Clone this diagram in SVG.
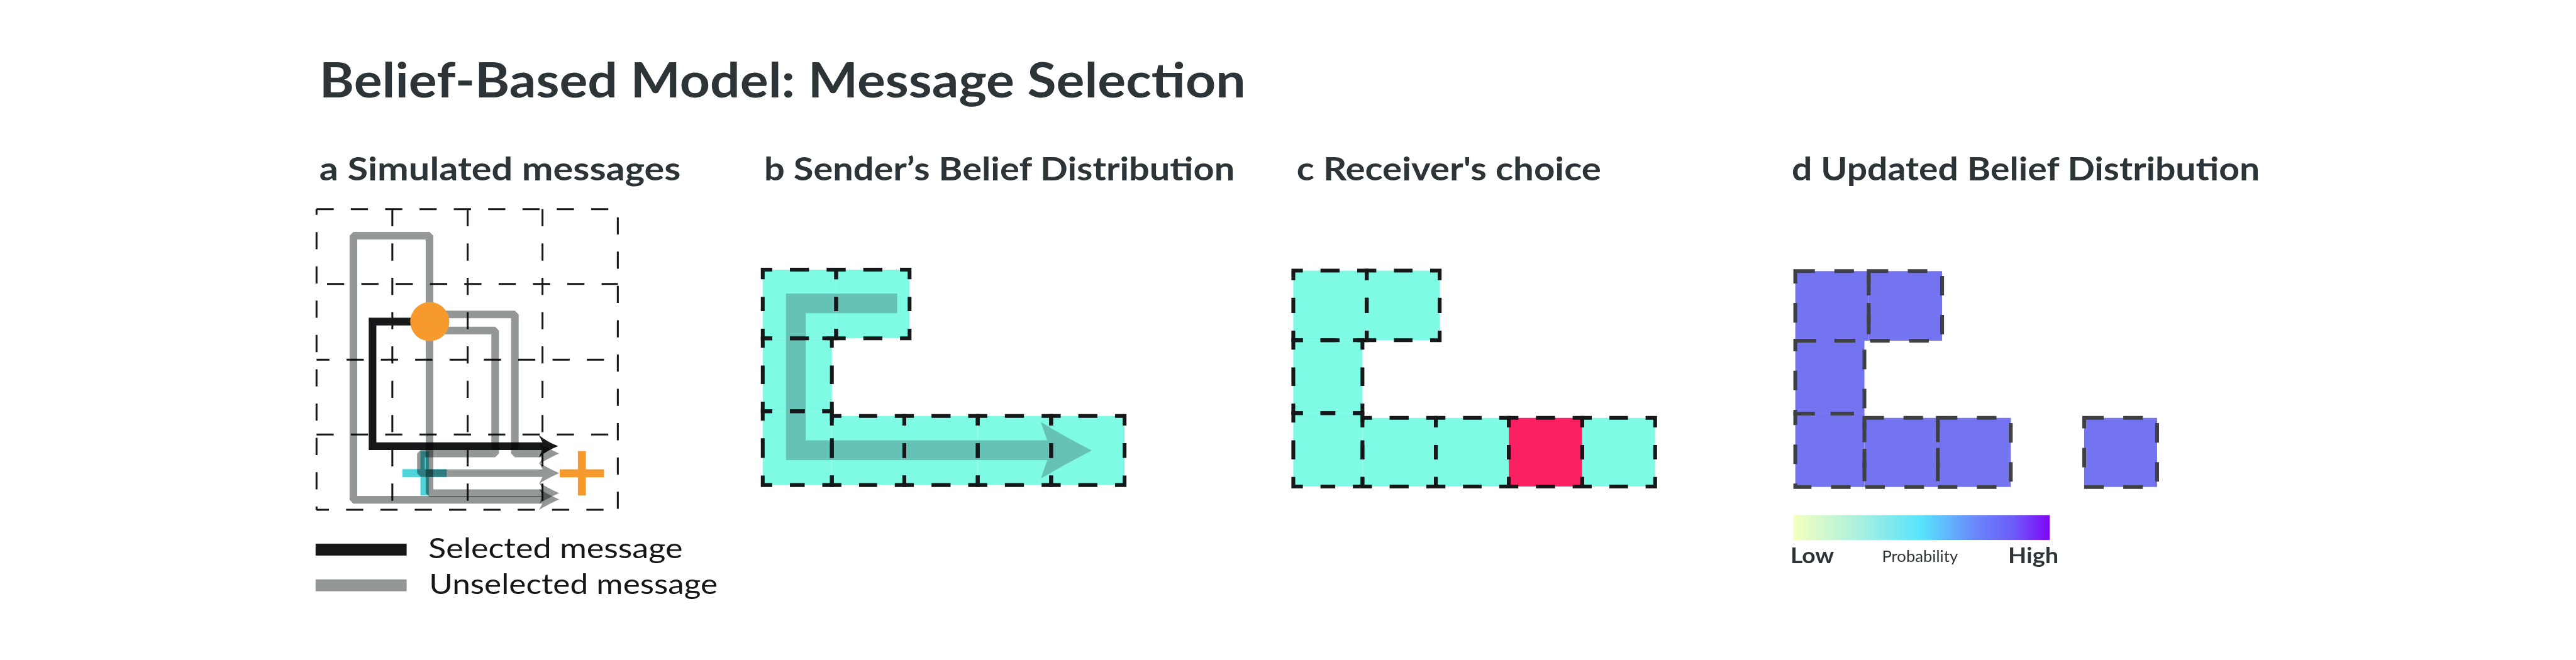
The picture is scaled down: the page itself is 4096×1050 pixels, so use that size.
<svg xmlns="http://www.w3.org/2000/svg" width="4096" height="1050" viewBox="0 0 4096 1050">
<defs>
<style>
.ttl{font-family:Lato,"Liberation Sans",sans-serif;font-weight:700;fill:#2D3437}
.hdr{font-family:Lato,"Liberation Sans",sans-serif;font-weight:700;font-size:67px;fill:#2D3437}
.leg{font-family:Lato,"Liberation Sans",sans-serif;font-weight:400;font-size:59px;fill:#151617}
.grid{fill:none;stroke:#161718;stroke-width:4;stroke-dasharray:36 36}
.msg{fill:none;stroke:#939796;stroke-width:16;stroke-linejoin:bevel}
.ahg{fill:#939796}
.um{mix-blend-mode:multiply}
.aq{fill:#7FFBE5}
.cd{fill:none;stroke:#151718;stroke-width:8;stroke-linecap:square;stroke-dasharray:16 45 200}
.dfill{fill:#7474F0}
.dd{fill:none;stroke:#3F4043;stroke-width:8;stroke-dasharray:41 41}
.orange{fill:#F79A2E}
</style>
<linearGradient id="cbar" x1="0" y1="0" x2="1" y2="0">
<stop offset="0" stop-color="#F5FFBF"/>
<stop offset="0.25" stop-color="#ABF0DD"/>
<stop offset="0.5" stop-color="#58E4FD"/>
<stop offset="0.72" stop-color="#6A84FA"/>
<stop offset="0.86" stop-color="#6C5BF8"/>
<stop offset="1" stop-color="#7F05F6"/>
</linearGradient>
</defs>
<rect width="4096" height="1050" fill="#FFFFFF"/>
<g transform="scale(0.758)">
<g id="title">
<text class="ttl" x="670" y="205" font-size="100" textLength="1943" lengthAdjust="spacingAndGlyphs">Belief-Based Model: Message Selection</text>
</g>

<g id="panel-a">
<text class="hdr" x="670" y="378" textLength="758" lengthAdjust="spacingAndGlyphs">a Simulated messages</text>
<g id="grid-a">
<line class="grid" x1="664" y1="439" x2="1296" y2="439"/>
<line class="grid" x1="664" y1="596" x2="1296" y2="596" stroke-dashoffset="50"/>
<line class="grid" x1="664" y1="755" x2="1296" y2="755" stroke-dashoffset="9"/>
<line class="grid" x1="664" y1="912" x2="1296" y2="912"/>
<line class="grid" x1="664" y1="1070" x2="1296" y2="1070" stroke-dashoffset="10"/>
<line class="grid" x1="664" y1="439" x2="664" y2="1070" stroke-dashoffset="24"/>
<line class="grid" x1="823" y1="439" x2="823" y2="1070"/>
<line class="grid" x1="981" y1="439" x2="981" y2="1070"/>
<line class="grid" x1="1138" y1="439" x2="1138" y2="1070"/>
<line class="grid" x1="1296" y1="439" x2="1296" y2="1070" stroke-dashoffset="55"/>
</g>
<g id="goal-cyan">
<rect x="844" y="984.6" width="93" height="16.6" fill="#4DD3DA"/>
<rect x="882" y="947" width="18" height="93" fill="#4DD3DA"/>
</g>
<g id="connectors">
<g id="selected-message">
<path d="M901 675H781.5V936.5H1142" fill="none" stroke="#161718" stroke-width="16"/>
<path d="M1130 913Q1148 928 1171 936.5Q1148 945 1130 960L1142 936.5Z" fill="#161718"/>
</g>
<g id="unselected-a" class="um">
<path class="msg" d="M901 675V494.8H741.3V1049H1142"/>
<path class="ahg" d="M1131 1026Q1150 1038 1173 1048Q1150 1058 1131 1070L1142 1048Z"/>
</g>
<g id="unselected-b" class="um">
<path class="msg" d="M901 660H1080V951.8H1142"/>
<path class="ahg" d="M1131 929.8Q1150 941.8 1173 951.8Q1150 961.8 1131 973.8L1142 951.8Z"/>
</g>
<g id="unselected-c" class="um">
<path class="msg" d="M901 693.8H1038.7V951.8H883V993H1142"/>
<path class="ahg" d="M1131 971Q1150 983 1173 993Q1150 1003 1131 1015L1142 993Z"/>
</g>
<g id="unselected-d" class="um">
<path class="msg" d="M901 675V1035H1142"/>
<path class="ahg" d="M1131 1013Q1150 1025 1173 1035Q1150 1045 1131 1057L1142 1035Z"/>
</g>
</g>
<circle id="start" class="orange" cx="901.5" cy="675" r="41"/>
<g id="goal-orange">
<rect class="orange" x="1174" y="985" width="93" height="16.7"/>
<rect class="orange" x="1212.3" y="946.7" width="16.7" height="93.3"/>
</g>
<g id="legend">
<rect x="662" y="1141" width="191" height="25" fill="#161718"/>
<rect x="662" y="1216" width="191" height="25" fill="#939796"/>
<text class="leg" x="898.5" y="1171.7" textLength="533.5" lengthAdjust="spacingAndGlyphs">Selected message</text>
<text class="leg" x="900" y="1246.7" textLength="605.6" lengthAdjust="spacingAndGlyphs">Unselected message</text>
</g>
</g>

<g id="panel-b">
<text class="hdr" x="1603" y="378" textLength="987" lengthAdjust="spacingAndGlyphs">b Sender’s Belief Distribution</text>
<g id="cells-b">
<rect class="aq" x="1600" y="566" width="154" height="144"/>
<rect class="aq" x="1754" y="566" width="154" height="144"/>
<rect class="aq" x="1600" y="710" width="145" height="153"/>
<rect class="aq" x="1600" y="863" width="145" height="155"/>
<rect class="aq" x="1745" y="873" width="152" height="145"/>
<rect class="aq" x="1897" y="873" width="154" height="145"/>
<rect class="aq" x="2051" y="873" width="154" height="145"/>
<rect class="aq" x="2205" y="873" width="154" height="145"/>
</g>
<g id="belief-path-b">
<path d="M1882 636.7H1669.5V945H2200" fill="none" stroke="#66C2B7" stroke-width="41.5"/>
<path d="M2183.3 885.7Q2236 918 2290 945.5Q2236 973 2183.3 1004.3L2204 945.5Z" fill="#66C2B7"/>
</g>
<g id="borders-b">
<path class="cd" d="M1600 566H1677M1754 566H1677M1754 566V638M1754 710V638M1754 710H1677M1600 710H1677M1600 710V638M1600 566V638"/>
<path class="cd" d="M1754 566H1831M1908 566H1831M1908 566V638M1908 710V638M1908 710H1831M1754 710H1831M1754 710V638M1754 566V638"/>
<path class="cd" d="M1600 710H1672.5M1745 710H1672.5M1745 710V786.5M1745 863V786.5M1745 863H1672.5M1600 863H1672.5M1600 863V786.5M1600 710V786.5"/>
<path class="cd" d="M1600 863H1672.5M1745 863H1672.5M1745 863V940.5M1745 1018V940.5M1745 1018H1672.5M1600 1018H1672.5M1600 1018V940.5M1600 863V940.5"/>
<path class="cd" d="M1745 873H1821M1897 873H1821M1897 873V945.5M1897 1018V945.5M1897 1018H1821M1745 1018H1821M1745 1018V945.5M1745 873V945.5"/>
<path class="cd" d="M1897 873H1974M2051 873H1974M2051 873V945.5M2051 1018V945.5M2051 1018H1974M1897 1018H1974M1897 1018V945.5M1897 873V945.5"/>
<path class="cd" d="M2051 873H2128M2205 873H2128M2205 873V945.5M2205 1018V945.5M2205 1018H2128M2051 1018H2128M2051 1018V945.5M2051 873V945.5"/>
<path class="cd" d="M2205 873H2282M2359 873H2282M2359 873V945.5M2359 1018V945.5M2359 1018H2282M2205 1018H2282M2205 1018V945.5M2205 873V945.5"/>
</g>
</g>

<g id="panel-c">
<text class="hdr" x="2720" y="378" textLength="638.6" lengthAdjust="spacingAndGlyphs">c Receiver's choice</text>
<g id="cells-c">
<rect class="aq" x="2713" y="568" width="154" height="146"/>
<rect class="aq" x="2867" y="568" width="153" height="146"/>
<rect class="aq" x="2713" y="714" width="145" height="153"/>
<rect class="aq" x="2713" y="867" width="145" height="154"/>
<rect class="aq" x="2858" y="877" width="154" height="144"/>
<rect class="aq" x="3012" y="877" width="153" height="144"/>
<rect id="chosen-cell" x="3165" y="877" width="154" height="144" fill="#FA2061"/>
<rect class="aq" x="3319" y="877" width="153" height="144"/>
</g>
<g id="borders-c">
<path class="cd" d="M2713 568H2790M2867 568H2790M2867 568V641M2867 714V641M2867 714H2790M2713 714H2790M2713 714V641M2713 568V641"/>
<path class="cd" d="M2867 568H2943.5M3020 568H2943.5M3020 568V641M3020 714V641M3020 714H2943.5M2867 714H2943.5M2867 714V641M2867 568V641"/>
<path class="cd" d="M2713 714H2785.5M2858 714H2785.5M2858 714V790.5M2858 867V790.5M2858 867H2785.5M2713 867H2785.5M2713 867V790.5M2713 714V790.5"/>
<path class="cd" d="M2713 867H2785.5M2858 867H2785.5M2858 867V944M2858 1021V944M2858 1021H2785.5M2713 1021H2785.5M2713 1021V944M2713 867V944"/>
<path class="cd" d="M2858 877H2935M3012 877H2935M3012 877V949M3012 1021V949M3012 1021H2935M2858 1021H2935M2858 1021V949M2858 877V949"/>
<path class="cd" d="M3012 877H3088.5M3165 877H3088.5M3165 877V949M3165 1021V949M3165 1021H3088.5M3012 1021H3088.5M3012 1021V949M3012 877V949"/>
<path class="cd" d="M3165 877H3242M3319 877H3242M3319 877V949M3319 1021V949M3319 1021H3242M3165 1021H3242M3165 1021V949M3165 877V949"/>
<path class="cd" d="M3319 877H3395.5M3472 877H3395.5M3472 877V949M3472 1021V949M3472 1021H3395.5M3319 1021H3395.5M3319 1021V949M3319 877V949"/>
</g>
</g>

<g id="panel-d">
<text class="hdr" x="3758.5" y="378" textLength="982" lengthAdjust="spacingAndGlyphs">d Updated Belief Distribution</text>
<g id="cells-d">
<rect class="dfill" x="3766" y="569" width="154" height="146"/>
<rect class="dfill" x="3920" y="569" width="154" height="146"/>
<rect class="dfill" x="3766" y="715" width="145" height="153"/>
<rect class="dfill" x="3766" y="868" width="145" height="154"/>
<rect class="dfill" x="3911" y="877" width="154" height="145"/>
<rect class="dfill" x="4065" y="877" width="153" height="145"/>
<rect class="dfill" x="4372" y="877" width="153" height="145"/>
</g>
<g id="borders-d">
<rect class="dd" x="3766" y="569" width="154" height="146"/>
<rect class="dd" x="3920" y="569" width="154" height="146"/>
<rect class="dd" x="3766" y="715" width="145" height="153"/>
<rect class="dd" x="3766" y="868" width="145" height="154"/>
<rect class="dd" x="3911" y="877" width="154" height="145"/>
<rect class="dd" x="4065" y="877" width="153" height="145"/>
<rect class="dd" x="4372" y="877" width="153" height="145"/>
</g>
<g id="colorbar">
<rect x="3761.6" y="1081" width="538" height="52.3" fill="url(#cbar)"/>
<text class="ttl" x="3755.8" y="1181.7" font-size="45" textLength="91.5" lengthAdjust="spacingAndGlyphs">Low</text>
<text x="3947.8" y="1179.3" font-family="Lato, 'Liberation Sans', sans-serif" font-size="32.5" fill="#2D3437" textLength="159.2" lengthAdjust="spacingAndGlyphs">Probability</text>
<text class="ttl" x="4212.5" y="1181.7" font-size="45" textLength="105.8" lengthAdjust="spacingAndGlyphs">High</text>
</g>
</g>
</g>
</svg>
